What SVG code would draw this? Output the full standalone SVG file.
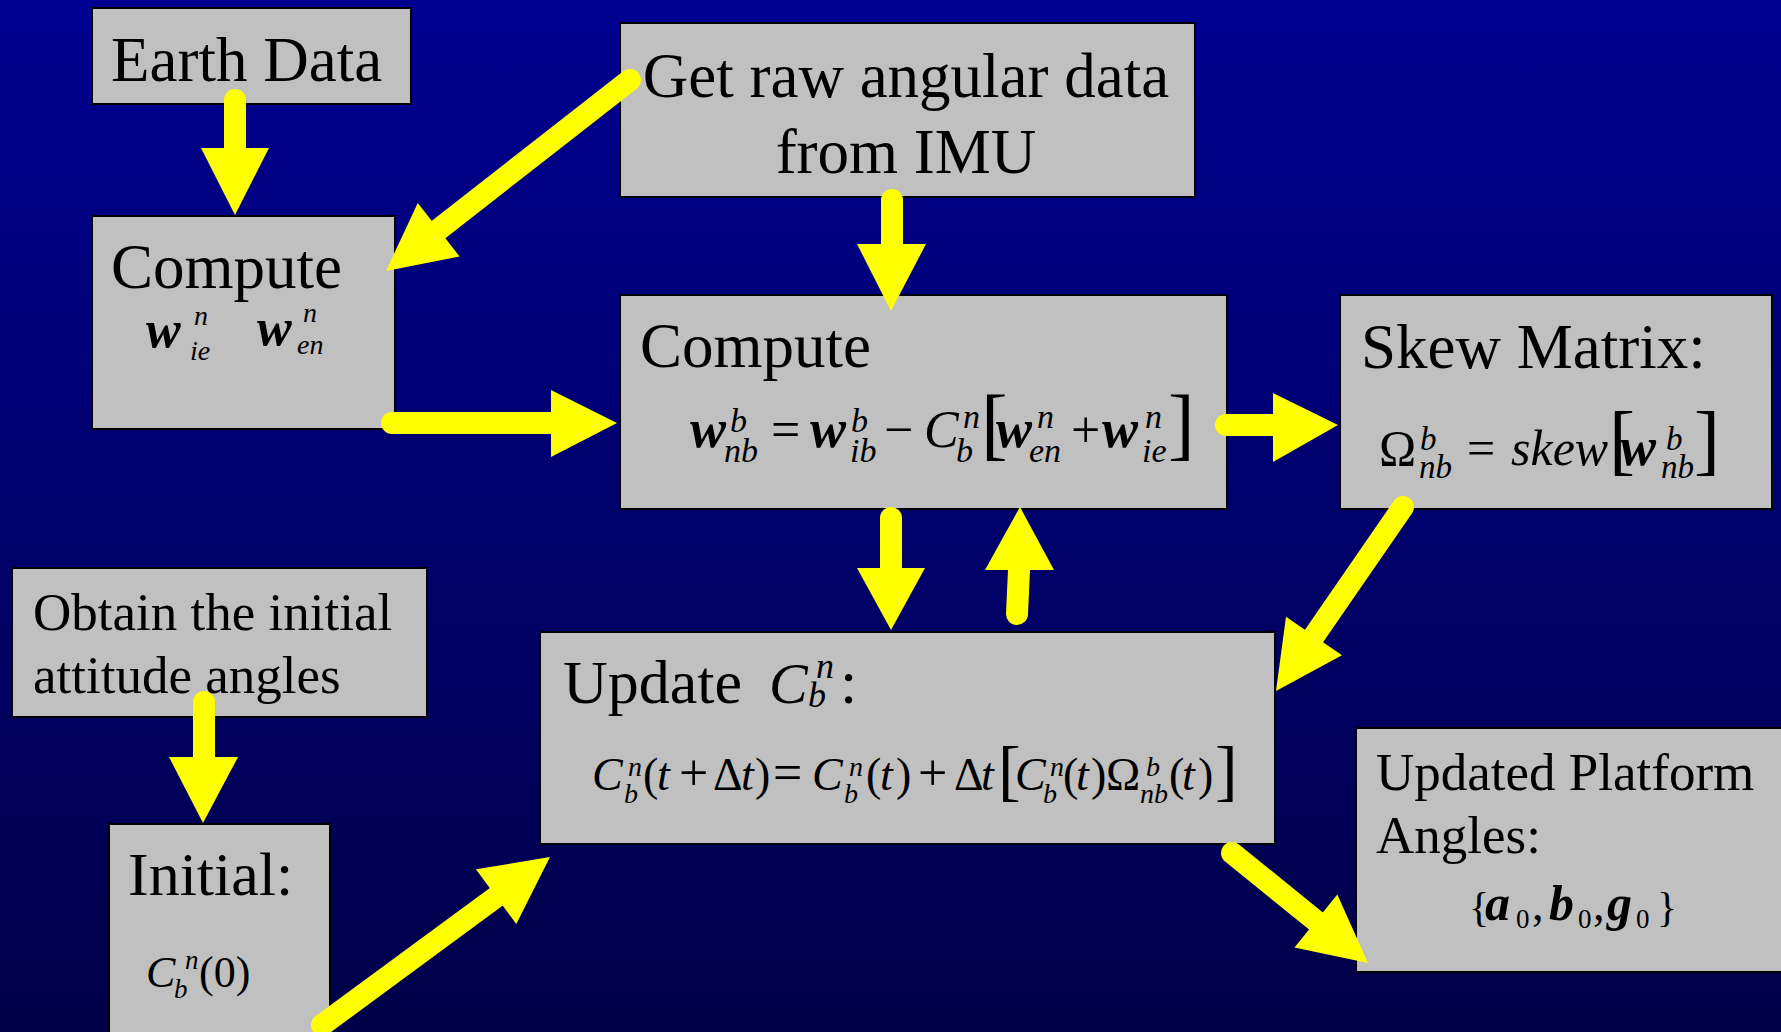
<svg xmlns="http://www.w3.org/2000/svg" width="1781" height="1032" viewBox="0 0 1781 1032">
<defs>
<linearGradient id="bg" x1="0" y1="0" x2="0" y2="1">
<stop offset="0" stop-color="#000090"/>
<stop offset="1" stop-color="#000048"/>
</linearGradient>
</defs>
<style>
.box{fill:#C0C0C0;stroke:#000;stroke-width:2}
text{font-family:"Liberation Serif","Times New Roman",serif;fill:#000}
.t63{font-size:63px}
.t53{font-size:53px}
.i{font-style:italic}
.bi{font-style:italic;font-weight:bold}
.shaft{stroke:#FFFF00;stroke-width:22;stroke-linecap:round;fill:none}
.head{fill:#FFFF00}
</style>
<rect x="0" y="0" width="1781" height="1032" fill="url(#bg)"/>

<g id="earth-data">
<rect class="box" x="92" y="8" width="319" height="96"/>
<text class="t63" x="111" y="81">Earth Data</text>
</g>

<g id="get-raw">
<rect class="box" x="620" y="23" width="575" height="174"/>
<text class="t63" x="906" y="97" text-anchor="middle">Get raw angular data</text>
<text class="t63" x="906" y="173" text-anchor="middle">from IMU</text>
</g>

<g id="compute-earth">
<rect class="box" x="92" y="216" width="303" height="213"/>
<text class="t63" x="111" y="288">Compute</text>
<text font-size="28"><tspan class="bi" x="146" y="347" font-size="52">w</tspan><tspan class="i" x="194" y="325">n</tspan><tspan class="i" x="190" y="360">ie</tspan><tspan class="bi" x="257" y="345" font-size="52">w</tspan><tspan class="i" x="303" y="322">n</tspan><tspan class="i" x="297" y="354">en</tspan></text>
</g>

<g id="compute-main">
<rect class="box" x="620" y="295" width="607" height="214"/>
<text class="t63" x="640" y="367">Compute</text>
<text font-size="52"><tspan class="bi" x="690" y="447" font-size="54">w</tspan><tspan class="i" x="730" y="432" font-size="34">b</tspan><tspan class="i" x="724" y="462" font-size="34">nb</tspan><tspan x="771" y="447">=</tspan><tspan class="bi" x="810" y="447" font-size="54">w</tspan><tspan class="i" x="851" y="432" font-size="34">b</tspan><tspan class="i" x="850" y="462" font-size="34">ib</tspan><tspan x="884" y="447">−</tspan><tspan class="i" x="924" y="447">C</tspan><tspan class="i" x="963" y="428" font-size="34">n</tspan><tspan class="i" x="956" y="462" font-size="34">b</tspan><tspan x="981" y="450" font-size="80">[</tspan><tspan class="bi" x="996" y="447" font-size="54">w</tspan><tspan class="i" x="1037" y="428" font-size="34">n</tspan><tspan class="i" x="1029" y="462" font-size="34">en</tspan><tspan x="1071" y="447">+</tspan><tspan class="bi" x="1102" y="447" font-size="54">w</tspan><tspan class="i" x="1145" y="428" font-size="34">n</tspan><tspan class="i" x="1142" y="462" font-size="34">ie</tspan><tspan x="1168" y="450" font-size="80">]</tspan></text>
</g>

<g id="skew-matrix">
<rect class="box" x="1340" y="295" width="432" height="214"/>
<text class="t63" x="1361" y="368">Skew Matrix:</text>
<text font-size="50"><tspan x="1379" y="465">Ω</tspan><tspan class="i" x="1420" y="450" font-size="33">b</tspan><tspan class="i" x="1419" y="478" font-size="33">nb</tspan><tspan x="1467" y="465">=</tspan><tspan class="i" x="1511" y="465">skew</tspan><tspan x="1609" y="466" font-size="78">[</tspan><tspan class="bi" x="1620" y="465" font-size="54">w</tspan><tspan class="i" x="1666" y="450" font-size="33">b</tspan><tspan class="i" x="1661" y="478" font-size="33">nb</tspan><tspan x="1694" y="466" font-size="78">]</tspan></text>
</g>

<g id="obtain-initial">
<rect class="box" x="12" y="568" width="415" height="149"/>
<text class="t53" x="33" y="630">Obtain the initial</text>
<text class="t53" x="33" y="693">attitude angles</text>
</g>

<g id="initial">
<rect class="box" x="109" y="824" width="221" height="230"/>
<text x="128" y="895" font-size="62">Initial:</text>
<text font-size="44"><tspan class="i" x="146" y="987">C</tspan><tspan class="i" x="185" y="969" font-size="27">n</tspan><tspan class="i" x="174" y="998" font-size="27">b</tspan><tspan x="199" y="987">(0)</tspan></text>
</g>

<g id="update">
<rect class="box" x="540" y="632" width="735" height="212"/>
<text font-size="62"><tspan x="563" y="703">Update</tspan><tspan class="i" x="769" y="703" font-size="58">C</tspan><tspan class="i" x="816" y="678" font-size="36">n</tspan><tspan class="i" x="808" y="707" font-size="36">b</tspan><tspan x="840" y="703">:</tspan></text>
<text font-size="46"><tspan class="i" x="592" y="790">C</tspan><tspan class="i" x="628" y="776" font-size="28">n</tspan><tspan class="i" x="624" y="803" font-size="28">b</tspan><tspan x="643" y="790">(</tspan><tspan class="i" x="657" y="790">t</tspan><tspan x="679" y="790" font-size="52">+</tspan><tspan x="713" y="790">Δ</tspan><tspan class="i" x="741" y="790">t</tspan><tspan x="755" y="790">)</tspan><tspan x="773" y="790" font-size="52">=</tspan><tspan class="i" x="812" y="790">C</tspan><tspan class="i" x="849" y="776" font-size="28">n</tspan><tspan class="i" x="844" y="803" font-size="28">b</tspan><tspan x="866" y="790">(</tspan><tspan class="i" x="880" y="790">t</tspan><tspan x="896" y="790">)</tspan><tspan x="918" y="790" font-size="52">+</tspan><tspan x="954" y="790">Δ</tspan><tspan class="i" x="981" y="790">t</tspan><tspan x="998" y="793" font-size="68">[</tspan><tspan class="i" x="1015" y="790">C</tspan><tspan class="i" x="1050" y="776" font-size="28">n</tspan><tspan class="i" x="1043" y="803" font-size="28">b</tspan><tspan x="1063" y="790">(</tspan><tspan class="i" x="1076" y="790">t</tspan><tspan x="1091" y="790">)</tspan><tspan x="1106" y="790">Ω</tspan><tspan class="i" x="1146" y="776" font-size="28">b</tspan><tspan class="i" x="1140" y="803" font-size="28">nb</tspan><tspan x="1169" y="790">(</tspan><tspan class="i" x="1182" y="790">t</tspan><tspan x="1198" y="790">)</tspan><tspan x="1215" y="793" font-size="68">]</tspan></text>
</g>

<g id="updated-platform">
<rect class="box" x="1356" y="728" width="440" height="244"/>
<text class="t53" x="1376" y="790">Updated Platform</text>
<text class="t53" x="1376" y="853">Angles:</text>
<text font-size="50"><tspan x="1469" y="921" font-size="42">{</tspan><tspan class="bi" x="1485" y="920">a</tspan><tspan x="1516" y="928" font-size="27">0</tspan><tspan x="1532" y="920" font-size="46">,</tspan><tspan class="bi" x="1549" y="920">b</tspan><tspan x="1578" y="928" font-size="27">0</tspan><tspan x="1593" y="920" font-size="46">,</tspan><tspan class="bi" x="1607" y="920">g</tspan><tspan x="1636" y="928" font-size="27">0</tspan><tspan x="1657" y="921" font-size="42">}</tspan></text>
</g>

<g id="connectors">
<line class="shaft" x1="235" y1="100" x2="235" y2="150"/>
<polygon class="head" points="201,148 269,148 235,215"/>

<line class="shaft" x1="630" y1="80" x2="438" y2="230"/>
<polygon class="head" points="459.6,256.5 417.8,202.9 386,271"/>

<line class="shaft" x1="392" y1="423" x2="553" y2="423"/>
<polygon class="head" points="551,390 551,457 617,423"/>

<line class="shaft" x1="892" y1="200" x2="892" y2="246"/>
<polygon class="head" points="857,244 926,244 891,311"/>

<line class="shaft" x1="1226" y1="425" x2="1275" y2="425"/>
<polygon class="head" points="1273,393 1273,462 1338,425"/>

<line class="shaft" x1="891" y1="518" x2="891" y2="570"/>
<polygon class="head" points="857,568 925,568 891,630"/>

<line class="shaft" x1="1017" y1="614" x2="1019" y2="570"/>
<polygon class="head" points="985,570 1054,570 1020,507"/>

<line class="shaft" x1="1403" y1="507" x2="1314" y2="636"/>
<polygon class="head" points="1342,655.3 1286,616.7 1276,691"/>

<line class="shaft" x1="1232" y1="853" x2="1316" y2="921"/>
<polygon class="head" points="1294.5,947.4 1337.3,894.4 1368,963"/>

<line class="shaft" x1="322" y1="1025" x2="496" y2="897"/>
<polygon class="head" points="516.3,924.1 475.9,869.3 550,857"/>

<line class="shaft" x1="204" y1="702" x2="204" y2="760"/>
<polygon class="head" points="169,757 238,757 203,823"/>
</g>
</svg>
